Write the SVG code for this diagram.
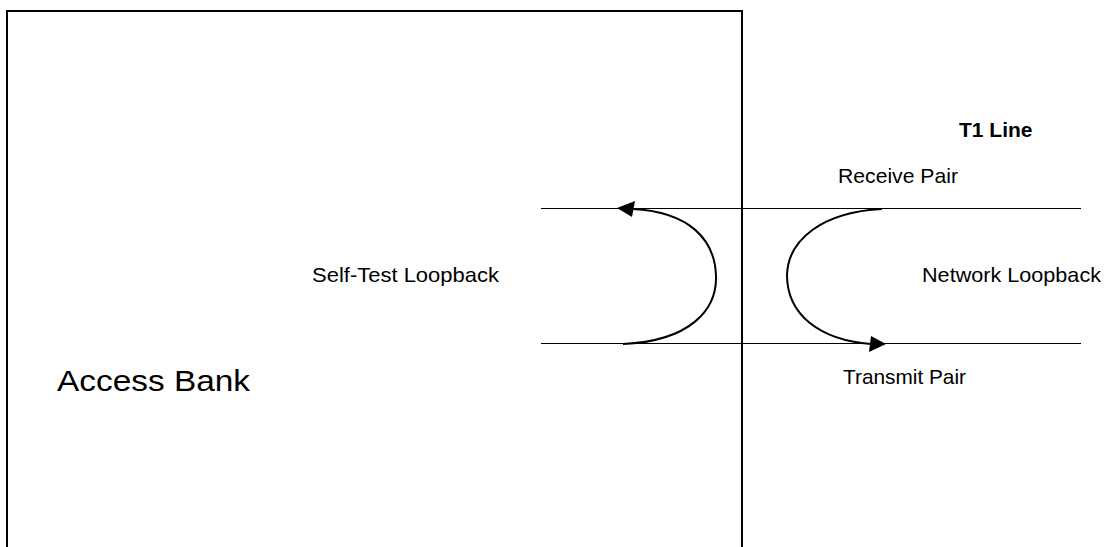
<svg xmlns="http://www.w3.org/2000/svg" width="1107" height="547" viewBox="0 0 1107 547">
  <style>
    .frame { fill: none; stroke: #000; stroke-width: 2; }
    .pair { stroke: #000; stroke-width: 1; fill: none; }
    .loop { fill: none; stroke: #000; stroke-width: 2; }
    .head { fill: #000; stroke: none; }
    .lbl { font-family: "Liberation Sans", Arial, sans-serif; font-size: 21px; fill: #000; }
    .bold { font-weight: bold; }
    .big { font-size: 30px; }
  </style>
  <rect width="1107" height="547" fill="#fff"/>

  <!-- Access Bank enclosure (open at the bottom) -->
  <g id="access-bank">
    <path class="frame" d="M7,548 L7,11 L742,11 L742,548"/>
    <text class="lbl big" x="57" y="391" textLength="193" lengthAdjust="spacingAndGlyphs">Access Bank</text>
  </g>

  <!-- T1 line wire pairs -->
  <g id="t1-line">
    <text class="lbl bold" x="959" y="137">T1 Line</text>
  </g>
  <g id="receive-pair">
    <line class="pair" x1="541" y1="208.5" x2="1081" y2="208.5"/>
    <text class="lbl" x="838" y="183" textLength="120" lengthAdjust="spacingAndGlyphs">Receive Pair</text>
  </g>
  <g id="transmit-pair">
    <line class="pair" x1="541" y1="343.5" x2="1081" y2="343.5"/>
    <text class="lbl" x="843" y="384" textLength="123" lengthAdjust="spacingAndGlyphs">Transmit Pair</text>
  </g>

  <g id="self-test-loopback">
    <text class="lbl" x="312" y="282" textLength="187" lengthAdjust="spacingAndGlyphs">Self-Test Loopback</text>
  </g>
  <g id="network-loopback">
    <text class="lbl" x="922" y="282" textLength="179" lengthAdjust="spacingAndGlyphs">Network Loopback</text>
  </g>

  <!-- loopback connectors -->
  <g id="connectors">
    <path class="loop" d="M623,344 C690,341 717,310 716,276 C715,240 690,212 633,209"/>
    <polygon class="head" points="617,208 635,201 632,217"/>
    <path class="loop" d="M882,209 C822,212 788,240 787,275 C787,315 820,340 871,344"/>
    <polygon class="head" points="886,344 871,336 869,352"/>
  </g>
</svg>
